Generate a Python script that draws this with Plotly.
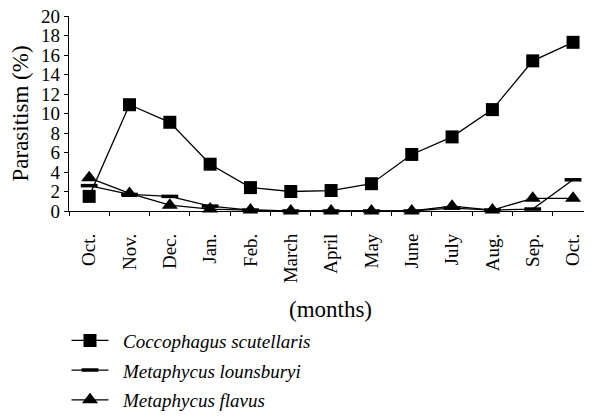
import plotly.graph_objects as go

months = ["Oct.", "Nov.", "Dec.", "Jan.", "Feb.", "March", "April", "May",
          "June", "July", "Aug.", "Sep.", "Oct."]
coccophagus = [1.5, 10.9, 9.1, 4.8, 2.4, 2.0, 2.1, 2.8, 5.8, 7.6, 10.4, 15.4, 17.3]
lounsburyi = [2.6, 1.7, 1.5, 0.5, 0.1, 0.0, 0.0, 0.0, 0.0, 0.3, 0.1, 0.2, 3.2]
flavus = [3.4, 1.8, 0.6, 0.2, 0.1, 0.0, 0.0, 0.0, 0.0, 0.5, 0.1, 1.3, 1.3]
y_ticks = list(range(0, 21, 2))

# "Oct." appears twice, so plot on positions and label them
x = list(range(len(months)))

FONT = "Liberation Serif"
PAD = "\u00a0\u00a0"  # gap between legend symbol and name

fig = go.Figure()
fig.add_trace(go.Scatter(
    x=x, y=coccophagus, mode="lines+markers", name=PAD + "Coccophagus scutellaris",
    legendgroup="a", line=dict(color="black", width=1.3),
    marker=dict(symbol="square", size=13, color="black"), cliponaxis=False))
fig.add_trace(go.Scatter(
    x=x, y=lounsburyi, mode="lines+markers", name=PAD + "Metaphycus lounsburyi",
    legendgroup="b", line=dict(color="black", width=1.3),
    marker=dict(symbol="line-ew", size=12, color="black",
                line=dict(color="black", width=3.5)), cliponaxis=False))
fig.add_trace(go.Scatter(
    x=x, y=flavus, mode="lines+markers", name=PAD + "Metaphycus flavus",
    legendgroup="c", line=dict(color="black", width=1.3),
    marker=dict(symbol="triangle-up", size=14, color="black"), cliponaxis=False))

# page body adds an 8px margin, so the figure is 8px smaller each way
fig.update_layout(
    width=584, height=408,
    margin=dict(l=61, r=0, t=8, b=204.5, autoexpand=False),
    paper_bgcolor="white", plot_bgcolor="white",
    font=dict(family=FONT, size=19, color="black"),
    showlegend=True,
    legend=dict(x=-0.0048, y=-0.567, xanchor="left", yanchor="top",
                font=dict(family=FONT, size=19, style="italic"),
                tracegroupgap=2, itemwidth=37),
)
fig.update_xaxes(
    tickmode="array", tickvals=x, ticktext=months, tickangle=-90,
    range=[-0.5, 12.47], automargin=False,
    showline=True, linecolor="black", linewidth=1.2,
    ticks="outside", ticklen=14, tickcolor="rgba(0,0,0,0)",
    minor=dict(ticks="outside", ticklen=4, tick0=-0.5, dtick=1, tickcolor="black"),
    showgrid=False, zeroline=False,
    title=dict(text="(months)", standoff=18),
)
fig.update_yaxes(
    range=[0, 20], tickvals=y_ticks, automargin=False, ticklabeloverflow="allow",
    showline=True, linecolor="black", linewidth=1.2,
    ticks="outside", ticklen=4, tickcolor="black",
    showgrid=False, zeroline=False,
    title=dict(text="Parasitism (%)", standoff=9),
)

fig.write_html("out.html")
